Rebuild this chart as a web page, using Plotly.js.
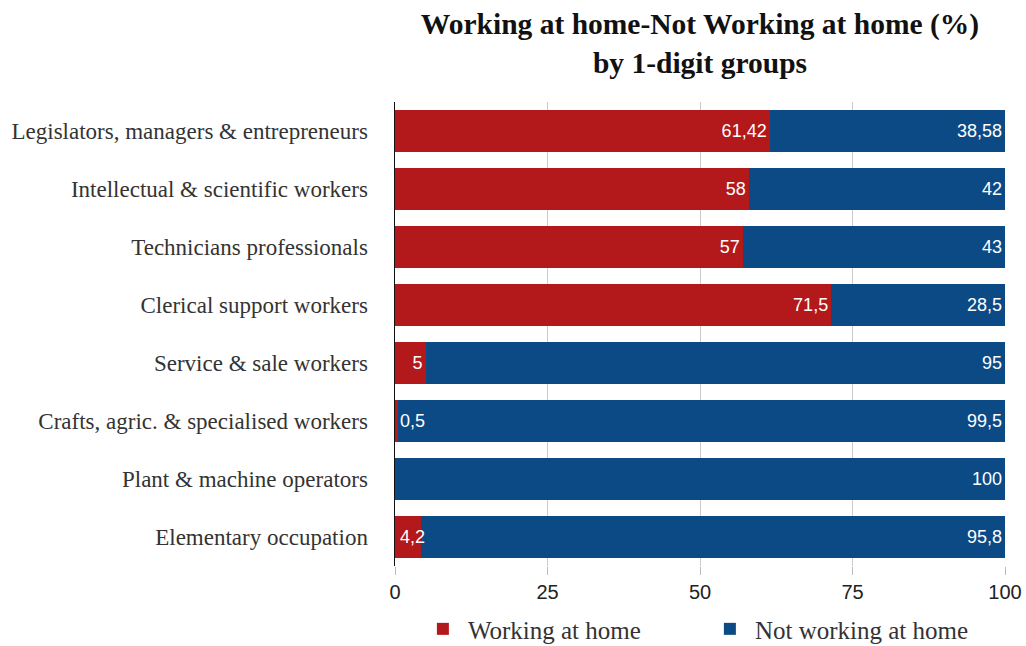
<!DOCTYPE html>
<html>
<head>
<meta charset="utf-8">
<script src="https://cdn.plot.ly/plotly-3.0.1.min.js"></script>
<style>html,body{margin:0;padding:0;background:#fff;}#chart{width:1026px;height:646px;}</style>
</head>
<body>
<div id="chart"></div>
<script>
const categories = [
  "Legislators, managers & entrepreneurs",
  "Intellectual & scientific workers",
  "Technicians professionals",
  "Clerical support workers",
  "Service & sale workers",
  "Crafts, agric. & specialised workers",
  "Plant & machine operators",
  "Elementary occupation"
];
const workingAtHome = [61.42, 58, 57, 71.5, 5, 0.5, 0, 4.2];
const notWorkingAtHome = [38.58, 42, 43, 28.5, 95, 99.5, 100, 95.8];
const xTicks = [0, 25, 50, 75, 100];
const seriesNames = ["Working at home", "Not working at home"];

const fmt = v => v === 0 ? "" : String(v).replace(".", ",");

const red = "#b3181b";
const blue = "#0c4a85";
const labelFont = {family: "Liberation Sans, Arial, sans-serif", size: 18, color: "#ffffff"};

// labels of very narrow red bars are written from the bar start, overflowing it
const narrow = v => v > 0 && v < 5;

const traces = [
  {
    type: "bar", orientation: "h", name: seriesNames[0],
    y: categories, x: workingAtHome,
    marker: {color: red, line: {width: 0}},
    text: workingAtHome.map(v => narrow(v) ? "" : fmt(v)),
    textposition: "inside", insidetextanchor: "end", constraintext: "none",
    textangle: 0, textfont: labelFont, cliponaxis: false, hoverinfo: "x+y"
  },
  {
    type: "bar", orientation: "h", name: seriesNames[1],
    y: categories, x: notWorkingAtHome,
    marker: {color: blue, line: {width: 0}},
    text: notWorkingAtHome.map(fmt),
    textposition: "inside", insidetextanchor: "end", constraintext: "none",
    textangle: 0, textfont: labelFont, cliponaxis: false, hoverinfo: "x+y"
  }
];

const annotations = [];
workingAtHome.forEach((v, i) => {
  if (narrow(v)) {
    annotations.push({
      x: 0, y: categories[i], xref: "x", yref: "y",
      text: fmt(v), showarrow: false, xanchor: "left", xshift: 3,
      font: labelFont
    });
  }
});

const layout = {
  width: 1026, height: 646,
  margin: {l: 395, r: 21, t: 102, b: 80, autoexpand: false},
  paper_bgcolor: "#ffffff", plot_bgcolor: "#ffffff",
  barmode: "stack", bargap: 0.28,
  title: {
    text: "<b>Working at home-Not Working at home (%)<br>by 1-digit groups</b>",
    font: {family: "Liberation Serif, Times New Roman, serif", size: 29.5, color: "#111"},
    x: 0.5, xref: "paper", y: 0.947, yref: "container", yanchor: "middle"
  },
  xaxis: {
    range: [0, 100], tickvals: xTicks, ticktext: xTicks.map(String),
    showgrid: true, gridcolor: "#cccccc", gridwidth: 1,
    zeroline: false, showline: false,
    ticks: "outside", ticklen: 8, tickcolor: "#bbbbbb",
    tickfont: {family: "Liberation Sans, Arial, sans-serif", size: 20, color: "#222"},
    fixedrange: true
  },
  yaxis: {
    autorange: "reversed", type: "category",
    showline: true, linecolor: "#111", linewidth: 1.5,
    ticks: "", ticklabelstandoff: 21,
    tickfont: {family: "Liberation Serif, Times New Roman, serif", size: 23, color: "#333"},
    showgrid: false, fixedrange: true
  },
  legend: {
    orientation: "h", x: 0.508, xanchor: "center", y: -0.136, yanchor: "middle",
    font: {family: "Liberation Serif, Times New Roman, serif", size: 25, color: "#333"},
    itemwidth: 40, traceorder: "normal", entrywidth: 232, entrywidthmode: "pixels"
  },
  annotations: annotations,
  showlegend: true
};

Plotly.newPlot("chart", traces, layout, {displayModeBar: false, staticPlot: true});
</script>
</body>
</html>
